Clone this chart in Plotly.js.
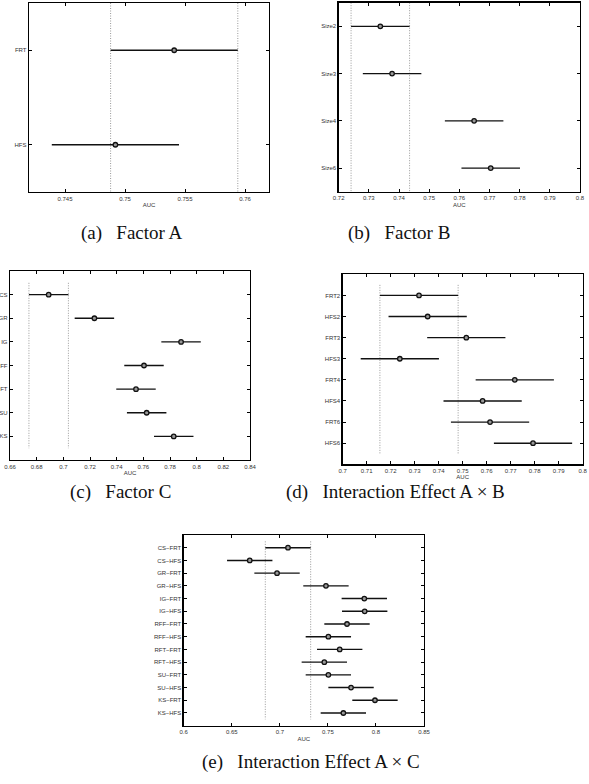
<!DOCTYPE html>
<html>
<head>
<meta charset="utf-8">
<script src="https://cdn.plot.ly/plotly-3.0.1.min.js"></script>
<style>html,body{margin:0;padding:0;background:#fff;}#chart{width:589px;height:784px;}</style>
</head>
<body>
<div id="chart"></div>
<script>
// ---- Data ----
const catsA = ['FRT', 'HFS'];
const meanA = [0.7541, 0.7492];
const halfA = [0.0053, 0.0053];
const tickValsA = [0.745, 0.75, 0.755, 0.76];
const tickTextA = ['0.745', '0.75', '0.755', '0.76'];

const catsB = ['Size2', 'Size3', 'Size4', 'Size6'];
const meanB = [0.7338, 0.7377, 0.7649, 0.7704];
const halfB = [0.0097, 0.0097, 0.0097, 0.0097];
const tickValsB = [0.72, 0.73, 0.74, 0.75, 0.76, 0.77, 0.78, 0.79, 0.8];
const tickTextB = ['0.72', '0.73', '0.74', '0.75', '0.76', '0.77', '0.78', '0.79', '0.8'];

const catsC = ['CS', 'GR', 'IG', 'RFF', 'RFT', 'SU', 'KS'];
const meanC = [0.6890, 0.7233, 0.7883, 0.7605, 0.7545, 0.7625, 0.7828];
const halfC = [0.0148, 0.0148, 0.0148, 0.0148, 0.0148, 0.0148, 0.0148];
const tickValsC = [0.66, 0.68, 0.7, 0.72, 0.74, 0.76, 0.78, 0.8, 0.82, 0.84];
const tickTextC = ['0.66', '0.68', '0.7', '0.72', '0.74', '0.76', '0.78', '0.8', '0.82', '0.84'];

const catsD = ['FRT2', 'HFS2', 'FRT3', 'HFS3', 'FRT4', 'HFS4', 'FRT6', 'HFS6'];
const meanD = [0.7318, 0.7354, 0.7515, 0.7238, 0.7717, 0.7583, 0.7614, 0.7793];
const halfD = [0.0163, 0.0163, 0.0163, 0.0163, 0.0163, 0.0163, 0.0163, 0.0163];
const tickValsD = [0.7, 0.71, 0.72, 0.73, 0.74, 0.75, 0.76, 0.77, 0.78, 0.79, 0.8];
const tickTextD = ['0.7', '0.71', '0.72', '0.73', '0.74', '0.75', '0.76', '0.77', '0.78', '0.79', '0.8'];

const catsE = ['CS\u2212FRT', 'CS\u2212HFS', 'GR\u2212FRT', 'GR\u2212HFS', 'IG\u2212FRT', 'IG\u2212HFS', 'RFF\u2212FRT',
               'RFF\u2212HFS', 'RFT\u2212FRT', 'RFT\u2212HFS', 'SU\u2212FRT', 'SU\u2212HFS', 'KS\u2212FRT', 'KS\u2212HFS'];
const meanE = [0.7085, 0.6687, 0.6971, 0.7480, 0.7879, 0.7883, 0.7699, 0.7505, 0.7623, 0.7463, 0.7505, 0.7741, 0.7990, 0.7661];
const halfE = [0.0236, 0.0236, 0.0236, 0.0236, 0.0236, 0.0236, 0.0236, 0.0236, 0.0236, 0.0236, 0.0236, 0.0236, 0.0236, 0.0236];
const tickValsE = [0.6, 0.65, 0.7, 0.75, 0.8, 0.85];
const tickTextE = ['0.6', '0.65', '0.7', '0.75', '0.8', '0.85'];

const captions = ['(a)\u2002 Factor A', '(b)\u2002 Factor B', '(c)\u2002 Factor C',
                  '(d)\u2002 Interaction Effect A \u00d7 B', '(e)\u2002 Interaction Effect A \u00d7 C'];

// ---- Layout helpers ----
const W = 589, H = 784;
const fx = v => v / W;
const fy = v => 1 - v / H;
const tickFont = {family: '"Liberation Sans", Arial, sans-serif', size: 6, color: '#333'};
const capFont = {family: '"Liberation Serif", "Times New Roman", serif', size: 19, color: '#111'};

const panels = [
  {cats: catsA, mean: meanA, half: halfA, tv: tickValsA, tt: tickTextA, xr: [0.742, 0.762], pad: 0.5, box: [29, 269, 3, 192]},
  {cats: catsB, mean: meanB, half: halfB, tv: tickValsB, tt: tickTextB, xr: [0.72, 0.8], pad: 0.5, box: [338.7, 580, 2.7, 191.7]},
  {cats: catsC, mean: meanC, half: halfC, tv: tickValsC, tt: tickTextC, xr: [0.66, 0.84], pad: 1, box: [10, 250, 271, 460]},
  {cats: catsD, mean: meanD, half: halfD, tv: tickValsD, tt: tickTextD, xr: [0.7, 0.8], pad: 1, box: [342.7, 582.7, 274.3, 464.3]},
  {cats: catsE, mean: meanE, half: halfE, tv: tickValsE, tt: tickTextE, xr: [0.6, 0.85], pad: 1, box: [183.7, 424, 535, 725.7]}
];
const captionPos = [[132, 233], [399, 233], [120, 492], [395, 492], [311, 762]];

const traces = [];
const layout = {
  width: W, height: H,
  margin: {l: 0, r: 0, t: 0, b: 0},
  paper_bgcolor: '#fff', plot_bgcolor: '#fff',
  showlegend: false,
  shapes: [], annotations: []
};

panels.forEach((p, i) => {
  const k = i === 0 ? '' : String(i + 1);
  const n = p.cats.length;
  traces.push({
    type: 'scatter', mode: 'markers',
    x: p.mean, y: p.cats,
    xaxis: 'x' + k, yaxis: 'y' + k,
    error_x: {type: 'data', symmetric: true, array: p.half, thickness: 1.4, width: 0, color: '#111'},
    marker: {symbol: 'circle', size: 4.5, color: '#999', line: {color: '#111', width: 1.3}},
    hoverinfo: 'x+y'
  });
  const b = p.box;
  layout['xaxis' + k] = {
    domain: [fx(b[0]), fx(b[1])], anchor: 'y' + k,
    range: p.xr, tickmode: 'array', tickvals: p.tv, ticktext: p.tt,
    ticks: 'inside', ticklen: 3, tickwidth: 1, tickcolor: '#000',
    showline: true, linecolor: '#000', linewidth: 1.3, mirror: 'ticks',
    showgrid: false, zeroline: false, tickfont: tickFont,
    title: {text: 'AUC', font: tickFont, standoff: 2},
    automargin: false
  };
  layout['yaxis' + k] = {
    domain: [fy(b[3]), fy(b[2])], anchor: 'x' + k,
    type: 'category', categoryorder: 'array', categoryarray: p.cats,
    range: [n - 1 + p.pad, -p.pad],
    ticks: 'inside', ticklen: 3, tickwidth: 1, tickcolor: '#000',
    showline: true, linecolor: '#000', linewidth: 1.3, mirror: 'ticks',
    showgrid: false, zeroline: false, tickfont: tickFont,
    automargin: false
  };
  // dotted comparison lines at the first group's interval
  [p.mean[0] - p.half[0], p.mean[0] + p.half[0]].forEach(xv => {
    layout.shapes.push({
      type: 'line', xref: 'x' + k, yref: 'y' + k,
      x0: xv, x1: xv, y0: -0.5, y1: n - 0.5,
      line: {color: '#999', width: 1, dash: '1px,1.5px'}, layer: 'below'
    });
  });
  layout.annotations.push({
    xref: 'paper', yref: 'paper', x: fx(captionPos[i][0]), y: fy(captionPos[i][1]),
    xanchor: 'center', yanchor: 'middle', showarrow: false,
    text: captions[i], font: capFont
  });
});

Plotly.newPlot('chart', traces, layout, {displayModeBar: false, staticPlot: true});
</script>
</body>
</html>
